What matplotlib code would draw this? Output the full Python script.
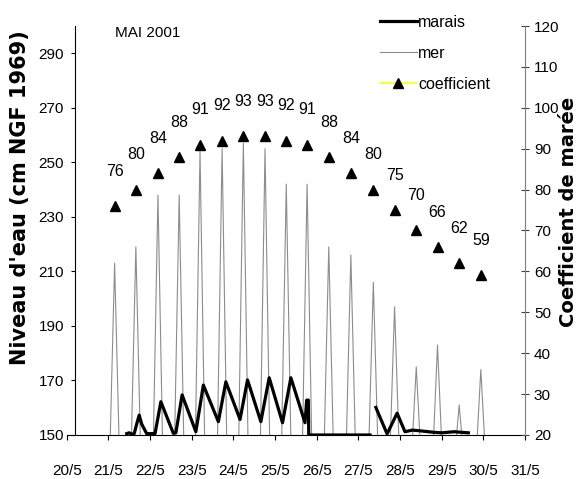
import numpy as np
import matplotlib
matplotlib.use('Agg')
import matplotlib.pyplot as plt
from matplotlib.lines import Line2D

# MAI 2001 - niveaux d'eau marais / mer et coefficients de marée
# time axis in days of May (21.5 = 21/5 at noon)

# coefficient de marée (one per high tide)
coef_t = [21.15, 21.66, 22.19, 22.70, 23.20, 23.73, 24.24, 24.76, 25.27,
          25.77, 26.29, 26.82, 27.36, 27.87, 28.39, 28.90, 29.42, 29.94]
coef_v = [76, 80, 84, 88, 91, 92, 93, 93, 92, 91, 88, 84, 80, 75, 70, 66, 62, 59]

# mer (sea level, only the part above 150 cm shows)
mer_t = [21.03, 21.15, 21.27, 21.54, 21.66, 21.78, 22.07, 22.19, 22.31,
         22.58, 22.70, 22.82, 23.08, 23.20, 23.32, 23.61, 23.73, 23.85,
         24.12, 24.24, 24.36, 24.64, 24.76, 24.88, 25.15, 25.27, 25.39,
         25.65, 25.77, 25.89, 26.17, 26.29, 26.41, 26.70, 26.82, 26.94,
         27.24, 27.36, 27.48, 27.75, 27.87, 27.99, 28.27, 28.39, 28.51,
         28.78, 28.90, 29.02, 29.30, 29.42, 29.54, 29.82, 29.94, 30.06]
mer_h = [140, 213, 140, 140, 219, 140, 140, 238, 140,
         140, 238, 140, 140, 254, 140, 140, 255, 140,
         140, 257, 140, 140, 255, 140, 140, 242, 140,
         140, 242, 140, 140, 219, 140, 140, 216, 140,
         140, 206, 140, 140, 197, 140, 140, 175, 140,
         140, 183, 140, 140, 161, 140, 140, 174, 140]

# marais (marsh level), gap = missing record
marais_t = [21.44, 21.50, 21.56, 21.62, 21.68, 21.74, 21.80, 21.92, 22.12,
            22.26, 22.56, 22.62, 22.77, 23.10, 23.28, 23.64, 23.82, 24.16,
            24.34, 24.66, 24.86, 25.18, 25.38, 25.72, 25.76, 25.80, 25.81,
            27.28, np.nan, 27.42, 27.69, 27.93, 28.12, 28.30, 28.50, 28.80,
            29.00, 29.30, 29.64]
marais_h = [150.5, 150.8, 150.3, 150.5, 154.0, 157.3, 154.0, 150.5, 150.5,
            162.2, 150.6, 150.8, 164.7, 151.2, 168.3, 154.9, 169.5, 155.7,
            170.2, 154.9, 171.0, 154.5, 171.0, 154.5, 162.8, 162.8, 150.0,
            150.0, np.nan, 160.1, 150.4, 158.0, 151.2, 151.8, 151.5, 151.0,
            150.8, 151.2, 150.8]

day_ticks = list(range(20, 32))
day_labels = [f'{d}/5' for d in day_ticks]

narrow = ['Liberation Sans Narrow', 'Liberation Sans', 'DejaVu Sans']
plt.rcParams['font.family'] = narrow
fs = 11

fig = plt.figure(figsize=(5.83, 4.79), dpi=100)
W, H = 583, 479
ax = fig.add_axes([66.7 / W, 44 / H, 458.3 / W, 409 / H])
ax2 = ax.twinx()

ax.plot(mer_t, mer_h, color='#8c8c8c', lw=0.8, zorder=2)
ax.plot(marais_t, marais_h, color='black', lw=2.3, zorder=3)
ax2.plot(coef_t, coef_v, ls='none', marker='^', color='black', ms=7)
for t, v in zip(coef_t, coef_v):
    ax2.annotate(str(v), (t, v), xytext=(0, 25), textcoords='offset points',
                 ha='center', va='center', fontsize=fs + 0.5)

ax.set_xlim(20, 31)
ax.set_ylim(150, 300)
ax2.set_ylim(20, 120)
ax.set_xticks(day_ticks)
ax.set_xticklabels(day_labels)
ax.set_yticks(range(150, 291, 20))
ax2.set_yticks(range(20, 121, 10))

for s in ['top', 'right']:
    ax.spines[s].set_visible(False)
for s in ['top', 'left', 'bottom']:
    ax2.spines[s].set_visible(False)
ax.spines['left'].set_position(('data', 20.2))
ax2.spines['right'].set_color('#808080')

ax.tick_params(axis='x', direction='out', length=3.6, pad=17, labelsize=fs)
ax.tick_params(axis='y', direction='out', length=2.9, pad=5, labelsize=fs)
ax2.tick_params(axis='y', direction='inout', length=5.8, pad=3.5, labelsize=fs,
                color='#404040')

fig.text(20 / W, 1 - 198 / H, "Niveau d'eau (cm NGF 1969)", rotation=90,
         ha='center', va='center', fontsize=15, fontweight='bold',
         family='DejaVu Sans')
fig.text(568 / W, 1 - 212 / H, 'Coefficient de marée', rotation=90,
         ha='center', va='center', fontsize=14, fontweight='bold',
         family='DejaVu Sans')
fig.text(115 / W, 1 - 33 / H, 'MAI 2001', ha='left', va='center', fontsize=fs)

handles = [Line2D([], [], color='black', lw=2.3),
           Line2D([], [], color='#8c8c8c', lw=0.8),
           Line2D([], [], color='#ffff00', lw=1.2, marker='^', mfc='black',
                  mec='black', ms=7)]
fig.legend(handles, ['marais', 'mer', 'coefficient'], loc='upper left',
           bbox_to_anchor=(380 / W, 1 - 15 / H), frameon=False, fontsize=fs + 0.5,
           handlelength=2.3, handletextpad=0.1, labelspacing=1.0,
           borderpad=0, borderaxespad=0)

plt.savefig('out.png', dpi=100)
